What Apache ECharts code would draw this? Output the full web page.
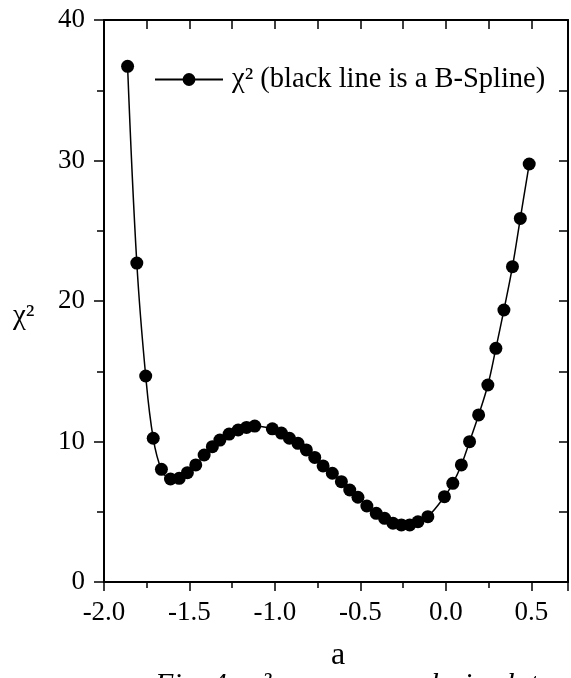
<!DOCTYPE html>
<html><head><meta charset="utf-8">
<script src="https://cdn.jsdelivr.net/npm/echarts@6/dist/echarts.min.js"></script>
<style>html,body{margin:0;padding:0;background:#fff}#c{width:571px;height:678px}</style>
</head><body><div id="c"></div>
<script>
// a values (x)
const aValues = [-1.862, -1.808, -1.756, -1.712, -1.664, -1.611, -1.560, -1.512, -1.463, -1.414, -1.366, -1.322, -1.268, -1.215, -1.166, -1.118, -1.015, -0.962, -0.915, -0.865, -0.816, -0.767, -0.718, -0.664, -0.611, -0.562, -0.514, -0.462, -0.407, -0.358, -0.309, -0.260, -0.211, -0.163, -0.105, -0.008, 0.041, 0.091, 0.139, 0.192, 0.246, 0.293, 0.340, 0.390, 0.436, 0.488];
// chi^2 values
const chi2Values = [36.7, 22.7, 14.66, 10.23, 8.02, 7.33, 7.38, 7.78, 8.33, 9.04, 9.63, 10.1, 10.53, 10.82, 11.0, 11.1, 10.9, 10.6, 10.23, 9.87, 9.4, 8.87, 8.26, 7.74, 7.14, 6.55, 6.03, 5.41, 4.89, 4.53, 4.18, 4.06, 4.06, 4.29, 4.65, 6.07, 7.02, 8.33, 9.99, 11.89, 14.02, 16.63, 19.36, 22.44, 25.88, 29.75];
const xTickLabels = ['-2.0', '-1.5', '-1.0', '-0.5', '0.0', '0.5'];
const yTickLabels = ['0', '10', '20', '30', '40'];
const legendLabel = 'χ² (black line is a B-Spline)';
const xAxisTitle = 'a';
const yAxisTitle = 'χ²';
const captionText = 'Fig. 4.  χ² versus a analysis plot';

const FONT = '"Liberation Serif", "Times New Roman", serif';
const chart = echarts.init(document.getElementById('c'), null, {renderer: 'canvas'});
const lineSty = {show: true, onZero: false, lineStyle: {color: '#000', width: 2}};
const xMin = -2, xMax = 0.715;

chart.setOption({
  animation: false,
  backgroundColor: '#fff',
  grid: {left: 104, right: 3, top: 20, bottom: 96, containLabel: false},
  legend: {
    data: [{name: legendLabel}],
    left: 154, top: 65, padding: 0,
    itemWidth: 68, itemHeight: 16, itemGap: 10,
    textStyle: {fontFamily: FONT, fontSize: 28.5, color: '#000', padding: [0, 0, 0, 4]}
  },
  xAxis: [{
    type: 'value', position: 'bottom', min: xMin, max: xMax, interval: 0.5,
    axisLine: lineSty,
    axisTick: {show: true, inside: false, length: 9, lineStyle: {color: '#000', width: 1.5}},
    minorTick: {show: true, splitNumber: 2, length: 6, lineStyle: {color: '#000', width: 1.5}},
    splitLine: {show: false}, minorSplitLine: {show: false},
    axisLabel: {
      show: true, margin: 17, color: '#000', fontFamily: FONT, fontSize: 27, showMaxLabel: false,
      formatter: function (v) {
        const i = Math.round((v - xMin) / 0.5);
        return Math.abs(v - (xMin + i * 0.5)) < 1e-6 ? (xTickLabels[i] || '') : '';
      }
    }
  }, {
    type: 'value', position: 'top', min: xMin, max: xMax, interval: 0.25,
    axisLine: lineSty,
    axisTick: {show: true, inside: true, length: 9, lineStyle: {color: '#000', width: 1.5}},
    axisLabel: {show: false}, splitLine: {show: false}
  }],
  yAxis: [{
    type: 'value', position: 'left', min: 0, max: 40, interval: 10,
    axisLine: lineSty,
    axisTick: {show: true, inside: false, length: 10, lineStyle: {color: '#000', width: 1.5}},
    minorTick: {show: true, splitNumber: 2, length: 7, lineStyle: {color: '#000', width: 1.5}},
    splitLine: {show: false}, minorSplitLine: {show: false},
    axisLabel: {
      show: true, margin: 19, color: '#000', fontFamily: FONT, fontSize: 27,
      formatter: function (v) { return yTickLabels[Math.round(v / 10)] || ''; }
    }
  }, {
    type: 'value', position: 'right', min: 0, max: 40, interval: 5,
    axisLine: lineSty,
    axisTick: {show: true, inside: true, length: 9, lineStyle: {color: '#000', width: 1.5}},
    axisLabel: {show: false}, splitLine: {show: false}
  }],
  series: [{
    name: legendLabel,
    type: 'line',
    xAxisIndex: 0, yAxisIndex: 0,
    data: aValues.map((a, i) => [a, chi2Values[i]]),
    smooth: 0.4,
    symbol: 'circle', symbolSize: 13,
    showAllSymbol: true,
    itemStyle: {color: '#000'},
    lineStyle: {color: '#000', width: 1.5},
    clip: false
  }],
  graphic: [
    {type: 'text', left: 331, top: 640, style: {text: xAxisTitle, font: '32px ' + FONT, fill: '#000'}},
    {type: 'text', left: 13, top: 302, style: {text: yAxisTitle, font: '29px ' + FONT, fill: '#000'}},
    {type: 'text', left: 155, top: 670, style: {text: captionText, font: 'italic 30px ' + FONT, fill: '#000'}}
  ]
});
</script>
</body></html>
